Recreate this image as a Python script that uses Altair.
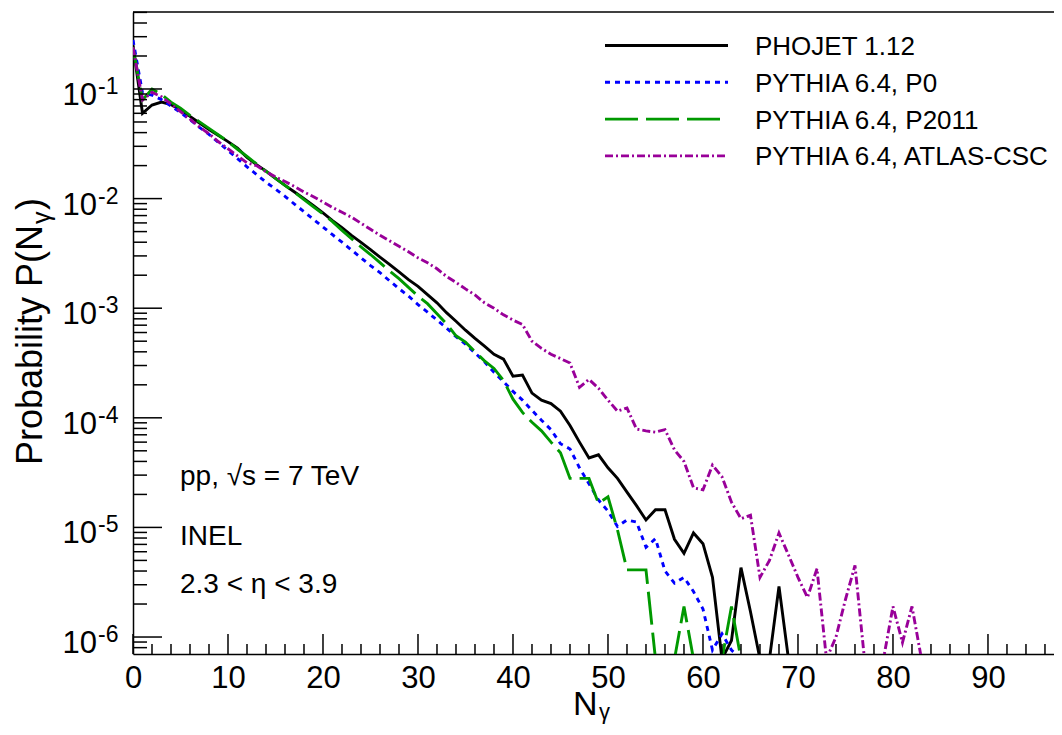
import altair as alt
import pandas as pd

FONT = "Liberation Sans"

SERIES = ["PHOJET 1.12", "PYTHIA 6.4, P0", "PYTHIA 6.4, P2011", "PYTHIA 6.4, ATLAS-CSC"]
COLORS = ["#000000", "#0000ff", "#009900", "#990099"]
DASHES = [None, [5, 5], [33, 8], [8, 3, 2, 3]]

# Probability per N_gamma bin (N = 0, 1, 2, ...); 0 = empty bin
P_PHOJET = [0.25, 0.060, 0.0714, 0.076, 0.072, 0.065, 0.0562, 0.049, 0.0427, 0.0376,
            0.0331, 0.0288, 0.0237, 0.0204, 0.0178, 0.0153, 0.0132, 0.0115, 0.0100, 0.0086,
            0.0074, 0.0063, 0.00543, 0.00462, 0.00398, 0.00343, 0.00292, 0.00251, 0.00214, 0.00182,
            0.00158, 0.00133, 0.00112, 0.00091, 0.00076, 0.00063, 0.00053, 0.00045, 0.00038, 0.000343,
            0.00024, 0.000245, 0.000168, 0.000145, 0.000135, 0.000115, 8.5e-5, 6.0e-5, 4.3e-5, 4.6e-5,
            3.5e-5, 2.8e-5, 2.1e-5, 1.58e-5, 1.17e-5, 1.45e-5, 1.45e-5, 7.8e-6, 5.8e-6, 8.9e-6,
            7.1e-6, 3.5e-6, 0, 9.3e-7, 4.3e-6, 1.7e-6, 0, 0, 2.9e-6, 0]

P_P0 = [0.28, 0.092, 0.088, 0.080, 0.070, 0.061, 0.0525, 0.0447, 0.0385, 0.0324,
        0.0275, 0.0232, 0.0195, 0.0166, 0.0141, 0.0122, 0.0105, 0.0089, 0.0076, 0.00646,
        0.0055, 0.00468, 0.0040, 0.0034, 0.00288, 0.00245, 0.00211, 0.00178, 0.00151, 0.00129,
        0.00108, 0.00092, 0.00078, 0.00066, 0.00055, 0.00047, 0.00039, 0.000324, 0.00026, 0.000214,
        0.000174, 0.000145, 0.000117, 9.5e-5, 7.8e-5, 5.8e-5, 5.2e-5, 3.5e-5, 2.5e-5, 1.78e-5,
        1.41e-5, 1.02e-5, 1.17e-5, 1.12e-5, 6.6e-6, 7.9e-6, 4.0e-6, 3.1e-6, 3.5e-6, 2.6e-6,
        1.8e-6, 7.6e-7, 1.07e-6, 7.6e-7, 0]

P_P2011 = [0.24, 0.0794, 0.100, 0.0891, 0.0759, 0.0668, 0.0575, 0.0501, 0.0437, 0.038,
           0.0331, 0.0282, 0.0243, 0.0207, 0.0178, 0.0153, 0.0132, 0.0114, 0.0098, 0.0084,
           0.00724, 0.00617, 0.00513, 0.00432, 0.00363, 0.00309, 0.0026, 0.00219, 0.00186, 0.00155,
           0.00129, 0.0011, 0.00089, 0.00072, 0.00056, 0.00049, 0.0004, 0.000331, 0.000282, 0.000219,
           0.000148, 0.000112, 9.1e-5, 7.6e-5, 6.0e-5, 4.8e-5, 2.8e-5, 2.8e-5, 2.8e-5, 1.66e-5,
           1.9e-5, 9.5e-6, 4.1e-6, 4.1e-6, 4.1e-6, 0, 0, 0, 1.9e-6, 0,
           0, 0, 0, 1.9e-6, 0]

P_CSC = [0.24, 0.0794, 0.0933, 0.085, 0.073, 0.062, 0.053, 0.045, 0.039, 0.033,
         0.0285, 0.0245, 0.0212, 0.020, 0.0176, 0.0158, 0.0143, 0.0129, 0.0115, 0.0104,
         0.0093, 0.0083, 0.0075, 0.00676, 0.00596, 0.00525, 0.00462, 0.00412, 0.00367, 0.00327,
         0.00288, 0.0026, 0.00229, 0.00195, 0.00172, 0.0015, 0.00132, 0.00112, 0.001, 0.00087,
         0.00078, 0.00071, 0.0005, 0.00043, 0.00038, 0.000347, 0.000316, 0.00019, 0.000224, 0.000186,
         0.000145, 0.000115, 0.000123, 7.9e-5, 7.6e-5, 7.4e-5, 7.8e-5, 5.1e-5, 4.0e-5, 2.3e-5,
         2.2e-5, 3.7e-5, 2.9e-5, 1.7e-5, 1.2e-5, 1.29e-5, 3.5e-6, 5.0e-6, 8.9e-6, 5.6e-6,
         3.5e-6, 2.3e-6, 4.2e-6, 0, 1.0e-6, 2.2e-6, 4.5e-6, 0, 0, 0,
         1.9e-6, 8.9e-7, 1.9e-6, 0]

ALL_P = [P_PHOJET, P_P0, P_P2011, P_CSC]

X_MAX = 96.95
Y_MIN = 7.0e-7
Y_MAX = 0.504
X_MAJOR = [0, 10, 20, 30, 40, 50, 60, 70, 80, 90]
X_MINOR = [v for v in range(2, 97, 2) if v % 10 != 0]
Y_MAJOR = [1e-1, 1e-2, 1e-3, 1e-4, 1e-5, 1e-6]
Y_EXP = ["-1", "-2", "-3", "-4", "-5", "-6"]
Y_MINOR = [8e-7, 9e-7] + [k * 10.0 ** e for e in range(-6, 0) for k in range(2, 10)
                          if k * 10.0 ** e <= Y_MAX]

ANNOT = ["pp,  \u221as = 7 TeV", "INEL", "2.3 <  \u03b7 < 3.9"]

W, H = 921, 642

XS = alt.Scale(domain=[0, X_MAX], nice=False, zero=False)
YS = alt.Scale(type="log", domain=[Y_MIN, Y_MAX], nice=False)
XAX = alt.Axis(values=X_MAJOR, ticks=False, grid=False, domainColor="black", domainWidth=1.5,
               labelFont=FONT, labelFontSize=31, labelColor="black", labelPadding=9,
               labelFlush=False, labelOverlap=False, title=None, format="d")
YAX = alt.Axis(labels=False, ticks=False, grid=False, domainColor="black", domainWidth=1.5,
               title=None)


def xe():
    return alt.X("N:Q", scale=XS, axis=XAX)


def ye():
    return alt.Y("P:Q", scale=YS, axis=YAX)


ONE = pd.DataFrame({"k": [0]})
layers = []

# data lines (empty bins drawn at the floor like ROOT does)
for name, color, dash, p in zip(SERIES, COLORS, DASHES, ALL_P):
    df = pd.DataFrame({"N": list(range(len(p))),
                       "P": [v if v > 0 else Y_MIN * 0.9 for v in p]})
    kw = dict(color=color, strokeWidth=2.9, clip=True, strokeCap="butt", strokeJoin="miter")
    if dash:
        kw["strokeDash"] = dash
    layers.append(alt.Chart(df).mark_line(**kw).encode(x=xe(), y=ye()))

# frame top
layers.append(alt.Chart(ONE).mark_rule(color="black", strokeWidth=1.5).encode(
    x=alt.value(0), x2=alt.value(W), y=alt.value(0)))

# inward ticks
layers.append(alt.Chart(pd.DataFrame({"N": X_MAJOR})).mark_rule(color="black", strokeWidth=1.5).encode(
    x=xe(), y=alt.value(H), y2=alt.value(H - 20)))
layers.append(alt.Chart(pd.DataFrame({"N": X_MINOR})).mark_rule(color="black", strokeWidth=1.5).encode(
    x=xe(), y=alt.value(H), y2=alt.value(H - 10)))
layers.append(alt.Chart(pd.DataFrame({"P": Y_MAJOR})).mark_rule(color="black", strokeWidth=1.5).encode(
    y=ye(), x=alt.value(0), x2=alt.value(29)))
layers.append(alt.Chart(pd.DataFrame({"P": Y_MINOR})).mark_rule(color="black", strokeWidth=1.5).encode(
    y=ye(), x=alt.value(0), x2=alt.value(14)))

# y tick labels 10^{-n}
ylab = pd.DataFrame({"P": Y_MAJOR, "exp": Y_EXP})
layers.append(alt.Chart(ylab).mark_text(text="10", font=FONT, fontSize=31, align="right",
                                        baseline="alphabetic", dy=16, color="black").encode(
    y=ye(), x=alt.value(-36)))
layers.append(alt.Chart(ylab).mark_text(font=FONT, fontSize=23, align="left",
                                        baseline="alphabetic", dy=5, color="black").encode(
    y=ye(), x=alt.value(-35), text=alt.Text("exp:N")))

# axis titles
layers.append(alt.Chart(ONE).mark_text(text="Probability P(N", font=FONT, fontSize=36, angle=270,
                                       align="left", baseline="alphabetic", color="black").encode(
    x=alt.value(-91), y=alt.value(453)))
layers.append(alt.Chart(ONE).mark_text(text="\u03b3", font=FONT, fontSize=25, angle=270,
                                       align="left", baseline="alphabetic", color="black").encode(
    x=alt.value(-83), y=alt.value(212)))
layers.append(alt.Chart(ONE).mark_text(text=")", font=FONT, fontSize=36, angle=270,
                                       align="left", baseline="alphabetic", color="black").encode(
    x=alt.value(-91), y=alt.value(198)))
layers.append(alt.Chart(ONE).mark_text(text="N", font=FONT, fontSize=34, align="left",
                                       baseline="alphabetic", color="black").encode(
    x=alt.value(440), y=alt.value(703)))
layers.append(alt.Chart(ONE).mark_text(text="\u03b3", font=FONT, fontSize=22, align="left",
                                       baseline="alphabetic", color="black").encode(
    x=alt.value(466), y=alt.value(707)))

# legend
for i, (name, color, dash) in enumerate(zip(SERIES, COLORS, DASHES)):
    kw = dict(color=color, strokeWidth=2.9, strokeCap="butt")
    if dash:
        kw["strokeDash"] = dash
    layers.append(alt.Chart(ONE).mark_rule(**kw).encode(
        x=alt.value(472), x2=alt.value(595), y=alt.value(33.5 + 36.8 * i)))
    layers.append(alt.Chart(ONE).mark_text(text=name, font=FONT, fontSize=26, align="left",
                                           baseline="alphabetic", color="black").encode(
        x=alt.value(622), y=alt.value(43 + 36.8 * i)))

# annotations
for txt, yb in zip(ANNOT, [473, 533, 581]):
    layers.append(alt.Chart(ONE).mark_text(text=txt, font=FONT, fontSize=28, align="left",
                                           baseline="alphabetic", color="black").encode(
        x=alt.value(47), y=alt.value(yb)))

chart = alt.layer(*layers).properties(
    width=W, height=H,
    autosize=alt.AutoSizeParams(type="none"),
    padding={"left": 125, "top": 4, "right": 0, "bottom": 73},
    background="white",
).configure_view(stroke=None)

chart.save("out.html", embed_options={"renderer": "svg", "actions": False})
